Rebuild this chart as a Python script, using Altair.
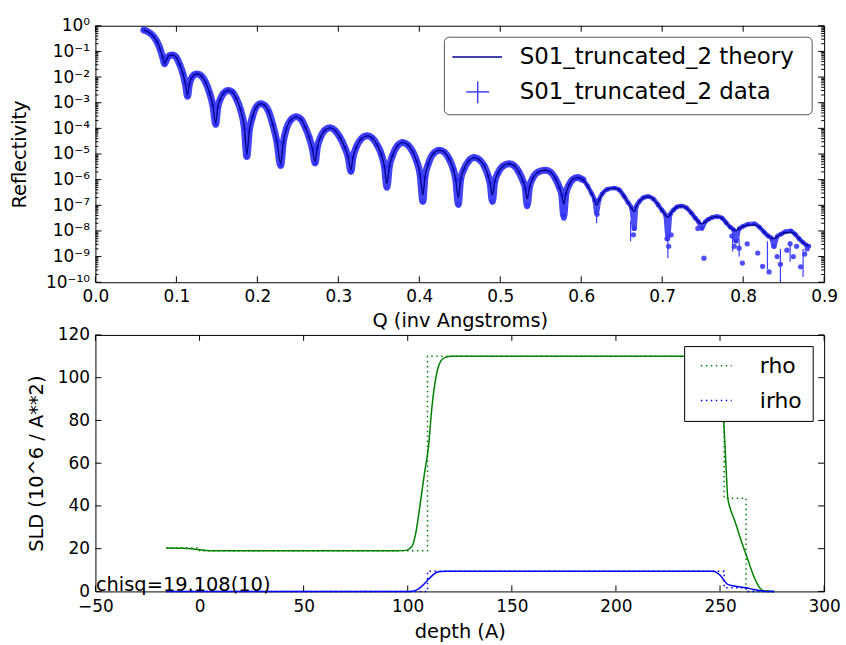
import math
import altair as alt
import pandas as pd

FONT = "DejaVu Sans"

# ---------------- Reflectivity (top panel) ----------------
# Q in inverse Angstroms, reflectivity given as log10(R)
theory_q = [
    0.0598, 0.064, 0.068, 0.072, 0.076, 0.080, 0.083,
    0.0855, 0.088, 0.091, 0.0955, 0.100, 0.104, 0.108, 0.111,
    0.1138, 0.116, 0.119, 0.122, 0.126, 0.131, 0.136, 0.141, 0.145,
    0.1486, 0.151, 0.154, 0.158, 0.164, 0.169, 0.174, 0.179, 0.184,
    0.1870, 0.190, 0.194, 0.198, 0.2040, 0.209, 0.214, 0.219, 0.224,
    0.2288, 0.232, 0.236, 0.241, 0.2480, 0.254, 0.259, 0.264, 0.268,
    0.2714, 0.274, 0.278, 0.283, 0.2898, 0.296, 0.302, 0.308, 0.312,
    0.3156, 0.318, 0.322, 0.328, 0.3356, 0.342, 0.348, 0.353, 0.357,
    0.360, 0.363, 0.367, 0.373, 0.3798, 0.386, 0.392, 0.397, 0.401,
    0.4044, 0.407, 0.411, 0.417, 0.4249, 0.431, 0.437, 0.442, 0.445,
    0.4482, 0.451, 0.455, 0.461, 0.4678, 0.474, 0.480, 0.485, 0.4875,
    0.4903, 0.493, 0.497, 0.503, 0.5108, 0.517, 0.523, 0.528, 0.531,
    0.5333, 0.536, 0.540, 0.547, 0.5558, 0.562, 0.568, 0.573, 0.576,
    0.5784, 0.581, 0.585, 0.590, 0.5958, 0.602, 0.608, 0.613, 0.6165,
    0.619, 0.622, 0.626, 0.632, 0.641, 0.647, 0.653, 0.658, 0.662,
    0.6655, 0.668, 0.672, 0.677, 0.6827, 0.689, 0.695, 0.700, 0.704,
    0.707, 0.710, 0.714, 0.718, 0.7236, 0.730, 0.736, 0.741, 0.745,
    0.749, 0.753, 0.757, 0.762, 0.7678, 0.774, 0.779, 0.784, 0.788,
    0.791, 0.795, 0.800, 0.806, 0.8137, 0.820, 0.826, 0.831, 0.835,
    0.838, 0.842, 0.847, 0.852, 0.8587, 0.864, 0.869, 0.874, 0.878,
    0.881,
]
theory_logr = [
    -0.17, -0.22, -0.30, -0.42, -0.62, -0.92, -1.22,
    -1.46, -1.30, -1.17, -1.14, -1.24, -1.50, -1.86, -2.25,
    -2.70, -2.28, -2.02, -1.91, -1.88, -1.96, -2.20, -2.62, -3.10,
    -3.80, -3.20, -2.88, -2.64, -2.52, -2.58, -2.84, -3.25, -4.00,
    -5.02, -4.10, -3.55, -3.20, -3.04, -3.10, -3.35, -3.85, -4.50,
    -5.38, -4.55, -4.00, -3.68, -3.55, -3.65, -3.95, -4.35, -4.80,
    -5.30, -4.75, -4.35, -4.08, -3.98, -4.08, -4.35, -4.75, -5.10,
    -5.62, -5.15, -4.75, -4.42, -4.29, -4.38, -4.65, -5.00, -5.50,
    -6.15, -5.50, -5.05, -4.68, -4.55, -4.65, -4.92, -5.30, -5.80,
    -6.60, -5.90, -5.40, -5.00, -4.85, -4.93, -5.20, -5.60, -6.00,
    -6.70, -6.00, -5.60, -5.27, -5.14, -5.22, -5.45, -5.85, -6.15,
    -6.60, -6.10, -5.75, -5.48, -5.38, -5.45, -5.70, -6.05, -6.35,
    -6.75, -6.30, -5.95, -5.70, -5.63, -5.70, -5.95, -6.30, -6.60,
    -6.95, -6.55, -6.20, -5.98, -5.92, -6.00, -6.25, -6.55, -6.80,
    -7.00, -6.80, -6.55, -6.38, -6.33, -6.40, -6.65, -6.90, -7.10,
    -7.25, -7.05, -6.85, -6.70, -6.66, -6.75, -6.98, -7.20, -7.38,
    -7.48, -7.35, -7.18, -7.07, -7.03, -7.10, -7.30, -7.50, -7.65,
    -7.72, -7.65, -7.55, -7.47, -7.44, -7.50, -7.68, -7.85, -7.95,
    -7.99, -7.92, -7.82, -7.77, -7.76, -7.85, -8.05, -8.20, -8.28,
    -8.30, -8.22, -8.12, -8.07, -8.05, -8.12, -8.30, -8.45, -8.55,
    -8.60,
]

# measured data (same Q grid), dipping below theory at the fringe minima
data_q = list(theory_q)
data_logr = [
    -0.17, -0.22, -0.30, -0.42, -0.62, -0.92, -1.22,
    -1.48, -1.30, -1.17, -1.14, -1.24, -1.50, -1.86, -2.25,
    -2.75, -2.28, -2.02, -1.91, -1.88, -1.96, -2.20, -2.62, -3.10,
    -3.85, -3.20, -2.88, -2.64, -2.52, -2.58, -2.84, -3.25, -4.00,
    -5.10, -4.10, -3.55, -3.20, -3.04, -3.10, -3.35, -3.85, -4.50,
    -5.45, -4.55, -4.00, -3.68, -3.55, -3.65, -3.95, -4.35, -4.80,
    -5.35, -4.75, -4.35, -4.08, -3.98, -4.08, -4.35, -4.75, -5.10,
    -5.68, -5.15, -4.75, -4.42, -4.29, -4.38, -4.65, -5.00, -5.50,
    -6.30, -5.50, -5.05, -4.68, -4.55, -4.65, -4.92, -5.30, -5.80,
    -6.85, -5.90, -5.40, -5.00, -4.85, -4.93, -5.20, -5.60, -6.00,
    -6.95, -6.00, -5.60, -5.27, -5.14, -5.22, -5.45, -5.85, -6.15,
    -6.85, -6.10, -5.75, -5.48, -5.38, -5.45, -5.70, -6.05, -6.35,
    -7.00, -6.30, -5.95, -5.70, -5.63, -5.70, -5.95, -6.30, -6.60,
    -7.40, -6.55, -6.20, -5.98, -5.92, -6.00, -6.25, -6.55, -6.80,
    -7.30, -6.80, -6.55, -6.38, -6.33, -6.40, -6.65, -6.90, -7.10,
    -7.90, -7.05, -6.85, -6.70, -6.66, -6.75, -6.98, -7.20, -7.38,
    -8.30, -7.35, -7.18, -7.07, -7.03, -7.10, -7.30, -7.50, -7.65,
    -7.90, -7.65, -7.55, -7.47, -7.44, -7.50, -7.68, -7.85, -7.95,
    -8.40, -7.92, -7.82, -7.74, -7.72, -7.85, -8.05, -8.20, -8.28,
    -8.60, -8.22, -8.12, -8.03, -8.00, -8.12, -8.30, -8.45, -8.55,
    -8.60,
]

# scattered data points well below the curve (high Q)
outlier_q = [0.3595, 0.404, 0.4485, 0.4905, 0.533, 0.5785, 0.6195, 0.6645,
             0.6655, 0.706, 0.708, 0.711, 0.744, 0.7515, 0.786, 0.789, 0.795,
             0.799, 0.805, 0.818, 0.824, 0.832, 0.838, 0.842, 0.846, 0.854,
             0.858, 0.862, 0.866, 0.871, 0.876, 0.879]
outlier_logr = [-6.30, -6.85, -7.00, -6.85, -7.05, -7.50, -7.35, -8.15,
                -7.90, -8.30, -8.60, -8.15, -7.90, -9.06, -8.20, -8.60, -8.67,
                -9.25, -8.50, -8.86, -9.38, -9.60, -8.60, -9.00, -9.30, -8.75,
                -8.50, -9.00, -8.60, -9.40, -8.90, -8.70]

# error bars (log10 R low / high) visible at high Q
err_q = [0.619, 0.661, 0.707, 0.787, 0.795, 0.830, 0.846, 0.858, 0.874]
err_lo = [-7.70, -8.40, -9.05, -8.80, -9.00, -9.50, -10.0, -9.20, -9.80]
err_hi = [-7.10, -7.60, -8.00, -8.10, -8.30, -8.40, -8.70, -8.40, -8.70]

xt_top = [0.0, 0.1, 0.2, 0.3, 0.4, 0.5, 0.6, 0.7, 0.8, 0.9]
yt_top = list(range(-10, 1))
yt_minor = [n + math.log10(k) for n in range(-10, 0) for k in range(2, 10)]

# ---------------- SLD profile (bottom panel) ----------------
rho_depth = [-16, -8, -3, 0, 3, 8, 50, 95, 99, 102, 104, 106, 108, 110, 111.5,
             113.5, 116, 118, 121, 150, 200, 246, 248, 249.5, 250.5, 251.8,
             252.9, 253.7, 255, 256.9, 260, 263.3, 266.5, 268.5, 271, 276]
rho_sld = [20.3, 20.2, 19.9, 19.5, 19.1, 19.0, 19.0, 19.0, 19.2, 21, 28, 41,
           55, 68, 85, 100, 108, 109.5, 110, 110, 110, 110, 109, 104, 95, 79,
           58, 44, 38.5, 33.5, 24.2, 15, 6.4, 2.5, 0.3, 0]
rho_step_depth = [-16, 0, 0, 109.5, 109.5, 252, 252, 262.5, 262.5, 276]
rho_step_sld = [20.3, 20.3, 19.0, 19.0, 110, 110, 43.6, 43.6, 0, 0]

irho_depth = [-16, 50, 100, 102, 104, 106, 108, 110, 112, 114, 116, 118, 150,
              200, 246.5, 248.5, 250.5, 252, 253.7, 256.9, 262.5, 266, 269,
              273, 276]
irho_sld = [0, 0, 0, 0.1, 0.6, 1.8, 3.6, 5.7, 7.6, 9.0, 9.35, 9.4, 9.4, 9.4,
            9.4, 8.8, 7.1, 5.0, 3.3, 2.5, 1.7, 0.9, 0.4, 0, 0]
irho_step_depth = [-16, 109.5, 109.5, 252, 252, 262.5, 262.5, 276]
irho_step_sld = [0, 0, 9.4, 9.4, 1.7, 1.7, 0, 0]

xt_bot = [-50, 0, 50, 100, 150, 200, 250, 300]
yt_bot = [0, 20, 40, 60, 80, 100, 120]

W, H = 733, 258
GREEN = "#008000"
BLUE = "#0000ff"
DATA_BLUE = "#2e2ef5"
THEORY_BLUE = "#00008b"

# ---------- top panel ----------
SUP = {"0": "\u2070", "1": "\u00b9", "2": "\u00b2", "3": "\u00b3", "4": "\u2074",
       "5": "\u2075", "6": "\u2076", "7": "\u2077", "8": "\u2078", "9": "\u2079",
       "-": "\u207b"}
label_expr = ""
for e in yt_top:
    s = "10" + "".join(SUP[c] for c in str(e))
    label_expr += f"datum.value == {e} ? '{s}' : "
label_expr += "''"

xq = alt.X("q:Q", scale=alt.Scale(domain=[0, 0.9], nice=False, zero=False),
           axis=alt.Axis(values=xt_top, format=".1f", title="Q (inv Angstroms)"))
yl = alt.Y("logr:Q", scale=alt.Scale(domain=[-10, 0], nice=False, zero=False),
           axis=alt.Axis(values=yt_top, labelExpr=label_expr, title="Reflectivity",
                         titlePadding=16))

tdf = pd.DataFrame({"q": theory_q, "logr": theory_logr})
ddf = pd.DataFrame({"q": data_q, "logr": data_logr})
odf = pd.DataFrame({"q": outlier_q, "logr": outlier_logr})
edf = pd.DataFrame({"q": err_q, "logr": err_lo, "hi": err_hi})

band_lo = alt.Chart(ddf).transform_filter("datum.q <= 0.602").mark_line(
    color=DATA_BLUE, strokeWidth=7, strokeJoin="round", strokeCap="round",
    interpolate="monotone", opacity=0.9, clip=True).encode(x=xq, y=yl)
band_hi = alt.Chart(ddf).transform_filter("datum.q >= 0.5958").mark_line(
    color=DATA_BLUE, strokeWidth=4.5, strokeJoin="round", strokeCap="round",
    interpolate="monotone", opacity=0.85, clip=True).encode(x=xq, y=yl)
dpts = alt.Chart(ddf).mark_circle(color=DATA_BLUE, size=22, opacity=0.9,
                                  clip=True).encode(x=xq, y=yl)
errs = alt.Chart(edf).mark_rule(color="#3c3cff", strokeWidth=1.2, clip=True).encode(
    x=xq, y=yl, y2="hi:Q")
opts = alt.Chart(odf).mark_circle(color="#3c3cff", size=28, opacity=0.9,
                                  clip=True).encode(x=xq, y=yl)
theory = alt.Chart(tdf).mark_line(color=THEORY_BLUE, strokeWidth=1.3,
                                  interpolate="monotone", clip=True).encode(x=xq, y=yl)

xtdf = pd.DataFrame({"q": xt_top})
ytdf = pd.DataFrame({"logr": yt_top})
ymdf = pd.DataFrame({"logr": yt_minor})
tk = dict(color="black", strokeWidth=1)
ticks_top = [
    alt.Chart(xtdf).mark_rule(**tk).encode(x=xq, y=alt.value(H), y2=alt.value(H - 6)),
    alt.Chart(xtdf).mark_rule(**tk).encode(x=xq, y=alt.value(0), y2=alt.value(6)),
    alt.Chart(ytdf).mark_rule(**tk).encode(y=yl, x=alt.value(0), x2=alt.value(6)),
    alt.Chart(ytdf).mark_rule(**tk).encode(y=yl, x=alt.value(W), x2=alt.value(W - 6)),
    alt.Chart(ymdf).mark_rule(**tk).encode(y=yl, x=alt.value(0), x2=alt.value(3)),
    alt.Chart(ymdf).mark_rule(**tk).encode(y=yl, x=alt.value(W), x2=alt.value(W - 3)),
]

one = pd.DataFrame({"a": [0]})
leg_top = [
    alt.Chart(one).mark_rect(fill="white", stroke="#555555", strokeWidth=1,
                             cornerRadius=5).encode(
        x=alt.value(351), x2=alt.value(721), y=alt.value(11.5), y2=alt.value(89.5)),
    alt.Chart(one).mark_rule(color=THEORY_BLUE, strokeWidth=1.5).encode(
        x=alt.value(359), x2=alt.value(409), y=alt.value(31.5)),
    alt.Chart(one).mark_rule(color="#4040ff", strokeWidth=1.5).encode(
        x=alt.value(373), x2=alt.value(396), y=alt.value(66.5)),
    alt.Chart(one).mark_rule(color="#4040ff", strokeWidth=1.5).encode(
        x=alt.value(384.5), y=alt.value(56), y2=alt.value(78)),
    alt.Chart(one).mark_text(align="left", baseline="middle", font=FONT,
                             fontSize=23, color="black",
                             text="S01_truncated_2 theory").encode(
        x=alt.value(426.7), y=alt.value(31.5)),
    alt.Chart(one).mark_text(align="left", baseline="middle", font=FONT,
                             fontSize=23, color="black",
                             text="S01_truncated_2 data").encode(
        x=alt.value(426.7), y=alt.value(66.5)),
]

top = alt.layer(band_lo, band_hi, dpts, errs, opts, theory, *ticks_top,
                *leg_top).properties(width=W, height=H)

# ---------- bottom panel ----------
xd = alt.X("depth:Q", scale=alt.Scale(domain=[-50, 300], nice=False, zero=False),
           axis=alt.Axis(values=xt_bot, title="depth (A)", labelPadding=7))
ys = alt.Y("sld:Q", scale=alt.Scale(domain=[0, 120], nice=False, zero=False),
           axis=alt.Axis(values=yt_bot, title="SLD (10^6 / A**2)", titlePadding=11))


def prof(dep, val):
    return pd.DataFrame({"depth": dep, "sld": val, "i": list(range(len(dep)))})


rho_line = alt.Chart(prof(rho_depth, rho_sld)).mark_line(
    color=GREEN, strokeWidth=1.5, interpolate="monotone").encode(x=xd, y=ys, order="i:Q")
rho_dot = alt.Chart(prof(rho_step_depth, rho_step_sld)).mark_line(
    color=GREEN, strokeWidth=1.5, strokeDash=[1.5, 3.5]).encode(x=xd, y=ys, order="i:Q")
irho_line = alt.Chart(prof(irho_depth, irho_sld)).mark_line(
    color=BLUE, strokeWidth=1.5, interpolate="monotone").encode(x=xd, y=ys, order="i:Q")
irho_dot = alt.Chart(prof(irho_step_depth, irho_step_sld)).mark_line(
    color=BLUE, strokeWidth=1.5, strokeDash=[1.5, 3.5]).encode(x=xd, y=ys, order="i:Q")

xbdf = pd.DataFrame({"depth": xt_bot})
ybdf = pd.DataFrame({"sld": yt_bot})
ticks_bot = [
    alt.Chart(xbdf).mark_rule(**tk).encode(x=xd, y=alt.value(H), y2=alt.value(H - 6)),
    alt.Chart(xbdf).mark_rule(**tk).encode(x=xd, y=alt.value(0), y2=alt.value(6)),
    alt.Chart(ybdf).mark_rule(**tk).encode(y=ys, x=alt.value(0), x2=alt.value(6)),
    alt.Chart(ybdf).mark_rule(**tk).encode(y=ys, x=alt.value(W), x2=alt.value(W - 6)),
]

leg_bot = [
    alt.Chart(one).mark_rect(fill="white", stroke="black", strokeWidth=1).encode(
        x=alt.value(592.7), x2=alt.value(722), y=alt.value(11.7), y2=alt.value(87)),
    alt.Chart(one).mark_rule(color=GREEN, strokeWidth=1.5, strokeDash=[1.5, 3.5]).encode(
        x=alt.value(609), x2=alt.value(640), y=alt.value(31)),
    alt.Chart(one).mark_rule(color=BLUE, strokeWidth=1.5, strokeDash=[1.5, 3.5]).encode(
        x=alt.value(609), x2=alt.value(640), y=alt.value(66)),
    alt.Chart(one).mark_text(align="left", baseline="middle", font=FONT,
                             fontSize=22, color="black", text="rho").encode(
        x=alt.value(668.3), y=alt.value(31)),
    alt.Chart(one).mark_text(align="left", baseline="middle", font=FONT,
                             fontSize=22, color="black", text="irho").encode(
        x=alt.value(668.3), y=alt.value(66)),
]

chisq = alt.Chart(one).mark_text(align="left", baseline="alphabetic", font=FONT,
                                 fontSize=19.5, color="black",
                                 text="chisq=19.108(10)").encode(
    x=alt.value(0.5), y=alt.value(H))

bottom = alt.layer(rho_dot, rho_line, irho_dot, irho_line, *ticks_bot, *leg_bot,
                   chisq).properties(width=W, height=H)

chart = alt.vconcat(top, bottom, spacing=53, bounds="flush").properties(
    padding={"left": 9, "top": 14, "right": 5, "bottom": 5},
    background="white",
).configure_axis(
    labelFont=FONT, labelFontSize=17, labelColor="black",
    titleFont=FONT, titleFontSize=19.5, titleFontWeight="normal", titleColor="black",
    ticks=False, tickSize=0, domain=False, grid=False, labelPadding=6, titlePadding=8,
    labelFlush=False, labelOverlap=False,
).configure_view(stroke="black", strokeWidth=1)

chart.save("out.html", embed_options={"renderer": "svg", "actions": False})
